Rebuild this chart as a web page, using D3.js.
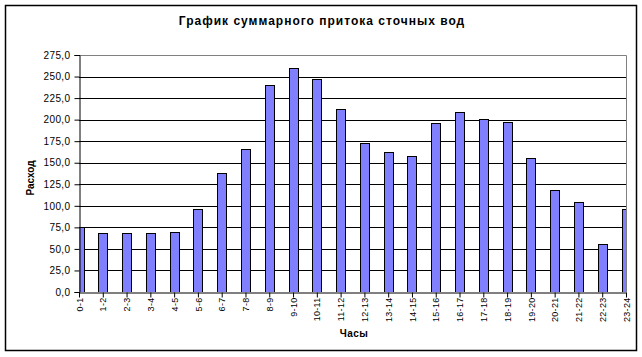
<!DOCTYPE html>
<html><head><meta charset="utf-8">
<script src="https://cdn.jsdelivr.net/npm/d3@7"></script>
<style>body{margin:0;background:#fff}svg{display:block}text{font-family:"Liberation Sans",Arial,sans-serif}</style>
</head><body><svg id="c" width="642" height="357"></svg>
<script>
const categories = ["0-1","1-2","2-3","3-4","4-5","5-6","6-7","7-8","8-9","9-10","10-11","11-12","12-13","13-14","14-15","15-16","16-17","17-18","18-19","19-20","20-21","21-22","22-23","23-24"];
const values = [75,68.5,68.5,68.5,69.5,96,138.5,165.5,240,259.5,247,212,172.5,162,157.5,196,208.5,200.5,197,155,118,105,55.5,96];
const yTicks = [0,25,50,75,100,125,150,175,200,225,250,275];
const title = "График суммарного притока сточных вод";
const xTitle = "Часы", yTitle = "Расход";

const svg = d3.select("#c");
const L=79, R=626, T=55, B=292;
svg.append("rect").attr("x",5.5).attr("y",5.5).attr("width",631).attr("height",345).attr("fill","#fff").attr("stroke","#000").attr("stroke-width",1.5);

const x = d3.scalePoint().domain(categories).range([L,R]);
const y = d3.scaleLinear().domain([0,275]).range([B,T]);
const fmt = d => d3.format(".1f")(d).replace(".",",");

svg.append("defs").append("clipPath").attr("id","pc").append("rect").attr("x",L).attr("y",T-2).attr("width",R-L).attr("height",B-T+2);

svg.append("g").selectAll("line").data(yTicks.filter(d=>d>0 && d<275)).join("line")
  .attr("x1",L).attr("x2",R).attr("y1",d=>Math.round(y(d))+0.5).attr("y2",d=>Math.round(y(d))+0.5).attr("stroke","#000");
svg.append("path").attr("d",`M${L},${T+0.5}H${R+0.5}V${B}`).attr("fill","none").attr("stroke","#808080");

const bw=9;
svg.append("g").attr("clip-path","url(#pc)").selectAll("rect").data(values).join("rect")
  .attr("x",(d,i)=>Math.round(x(categories[i])-bw/2)+0.5).attr("width",bw)
  .attr("y",d=>Math.round(y(d))+0.5).attr("height",d=>B-Math.round(y(d)))
  .attr("fill","#8080FF").attr("stroke","#000");

const ya = svg.append("g").attr("transform",`translate(${L+0.5},0)`)
  .call(d3.axisLeft(y).tickValues(yTicks).tickFormat(fmt).tickSize(5).tickPadding(4));
ya.select(".domain").attr("stroke","#000");
ya.selectAll("text").attr("font-size",10).attr("fill","#000").style("font-family","Liberation Sans, Arial").attr("letter-spacing","0.4px");

const xa = svg.append("g").attr("transform",`translate(0,${B+0.5})`)
  .call(d3.axisBottom(x).tickSize(5).tickSizeOuter(0));
xa.select(".domain").attr("stroke","#000");
xa.selectAll("text").attr("font-size",9).attr("fill","#000").style("font-family","Liberation Sans, Arial")
  .attr("transform","rotate(-90)").attr("text-anchor","end").attr("x",-5).attr("y",0).attr("dy","0.35em").attr("letter-spacing","0.3px");

svg.append("text").attr("x",322).attr("y",25).attr("text-anchor","middle").attr("font-size",12).attr("font-weight","bold").attr("letter-spacing","1px").text(title);
svg.append("text").attr("x",354).attr("y",337).attr("text-anchor","middle").attr("font-size",10).attr("font-weight","bold").attr("letter-spacing","0.5px").text(xTitle);
svg.append("text").attr("transform","translate(34,178) rotate(-90)").attr("text-anchor","middle").attr("font-size",10).attr("font-weight","bold").text(yTitle);
</script></body></html>
